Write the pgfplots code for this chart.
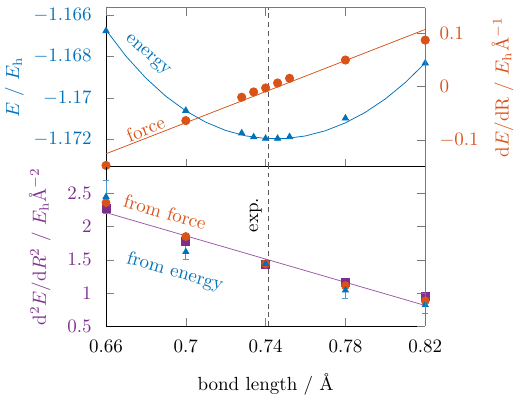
\documentclass[border=0pt]{standalone}
\usepackage{pgfplots}
\pgfplotsset{compat=1.18}
\definecolor{eblue}{RGB}{0,114,189}
\definecolor{forange}{RGB}{217,83,25}
\definecolor{hpurple}{RGB}{126,47,142}
\definecolor{spine}{RGB}{120,120,120}
\begin{document}
\begin{tikzpicture}
\pgfplotsset{
  panel/.style={
    width=168pt, height=83.8pt, scale only axis,
    xmin=0.66, xmax=0.82,
    xtick={0.66,0.7,0.74,0.78,0.82},
    clip=false,
    tick align=inside,
    axis line style={-},
    scaled ticks=false,
    xticklabel shift=4pt, yticklabel shift=4pt,
  },
}
% overall frame of the figure
\useasboundingbox (-55.8pt,-38.4pt) rectangle (224.2pt,171.6pt);

% ---------- upper panel: energy (left axis) ----------
\begin{axis}[panel, at={(0,83.8pt)}, anchor=south west,
  axis x line*=bottom, axis y line*=left,
  xtick pos=bottom, ytick pos=left, yticklabel pos=left,
  xticklabels={},
  ymin=-1.17334, ymax=-1.16564,
  ytick={-1.172,-1.17,-1.168,-1.166},
  yticklabel style={text=eblue, /pgf/number format/precision=3},
  ylabel={$E$ / $E_\mathrm{h}$}, ylabel style={text=eblue},
  ylabel shift=-1.7pt,
]
% fitted energy curve
\addplot[eblue, thin] coordinates {
  (0.66,-1.166724) (0.67,-1.167988) (0.68,-1.169051) (0.69,-1.169928)
  (0.70,-1.170634) (0.71,-1.171182) (0.72,-1.171582) (0.73,-1.171843)
  (0.74,-1.171971) (0.75,-1.171971) (0.76,-1.171845) (0.77,-1.171593)
  (0.78,-1.171213) (0.79,-1.170703) (0.80,-1.170056) (0.81,-1.169264)
  (0.82,-1.168317)};
% computed energies
\addplot[only marks, mark=triangle*, mark size=1.9pt, eblue] coordinates {
  (0.66,-1.16677) (0.70,-1.17062) (0.728,-1.17171) (0.734,-1.17190)
  (0.740,-1.17197) (0.746,-1.17197) (0.752,-1.17189) (0.78,-1.17099)
  (0.82,-1.16833)};
% experimental bond length
\addplot[black!65, dash pattern=on 2.6pt off 2pt] coordinates {(0.7414,-1.17334) (0.7414,-1.16564)};
\node[text=eblue, rotate=-41] at (axis cs:0.6806,-1.16796) {energy};
\node[text=forange, rotate=22] at (axis cs:0.6798,-1.17150) {force};
\end{axis}

% ---------- upper panel: force (right axis) ----------
\begin{axis}[panel, at={(0,83.8pt)}, anchor=south west,
  axis x line*=top, axis y line*=right,
  xtick pos=top, ytick pos=right, yticklabel pos=right,
  axis line style={spine}, tick style={spine},
  xticklabels={},
  ymin=-0.1505, ymax=0.1483,
  ytick={-0.1,0,0.1},
  yticklabel style={text=forange},
  ylabel={$\mathrm{d}E/\mathrm{dR}$ / $E_\mathrm{h}$\AA$^{-1}$},
  ylabel near ticks, ylabel style={text=forange}, ylabel shift=0pt,
]
\addplot[forange, thin] coordinates {(0.66,-0.1260) (0.82,0.1073)};
\addplot[only marks, mark=*, mark size=2.2pt, forange] coordinates {
  (0.66,-0.1479) (0.70,-0.0637) (0.728,-0.0199) (0.734,-0.0100)
  (0.740,-0.0025) (0.746,0.0068) (0.752,0.0156) (0.78,0.0499)
  (0.82,0.0873)};
\end{axis}

% ---------- lower panel: second derivative ----------
\begin{axis}[panel, at={(0,0)}, anchor=south west,
  axis x line*=bottom, axis y line*=left,
  xtick pos=bottom, ytick pos=left, yticklabel pos=left,
  ymin=0.5, ymax=2.9,
  ytick={0.5,1,1.5,2,2.5},
  yticklabel style={text=hpurple},
  xlabel={bond length / \AA}, xlabel shift=4pt,
  ylabel={$\mathrm{d}^2E/\mathrm{d}R^2$ / $E_\mathrm{h}$\AA$^{-2}$},
  ylabel style={text=hpurple}, ylabel shift=2pt,
]
\addplot[black!65, dash pattern=on 2.6pt off 2pt] coordinates {(0.7414,0.5) (0.7414,2.9)};
\node[rotate=90, anchor=south] at (axis cs:0.7414,2.17) {exp.};
\addplot[hpurple!80, thin] coordinates {(0.66,2.21) (0.82,0.81)};
\addplot[only marks, mark=square*, mark size=2.1pt, hpurple] coordinates {
  (0.66,2.27) (0.70,1.78) (0.74,1.43) (0.78,1.16) (0.82,0.95)};
\addplot[only marks, mark=*, mark size=2.1pt, forange] coordinates {
  (0.66,2.36) (0.70,1.85) (0.74,1.44) (0.78,1.11) (0.82,0.88)};
\addplot[only marks, mark=triangle*, mark size=1.8pt, eblue,
  error bars/.cd, y dir=both, y explicit,
  error bar style={eblue!70, thin},
  error mark options={rotate=90, eblue!70, mark size=1.6pt}]
  coordinates {
  (0.66,2.45) +- (0,0.25)
  (0.70,1.62) +- (0,0.11)
  (0.74,1.44) +- (0,0.03)
  (0.78,1.04) +- (0,0.13)
  (0.82,0.82) +- (0,0.13)};
\node[text=forange, rotate=-16] at (axis cs:0.6896,2.218) {from force};
\node[text=eblue, rotate=-16] at (axis cs:0.6946,1.311) {from energy};
\end{axis}

% lower panel: right spine
\begin{axis}[panel, at={(0,0)}, anchor=south west,
  axis x line=none, axis y line*=right,
  ytick pos=right, yticklabels={},
  axis line style={spine}, tick style={spine},
  ymin=0.5, ymax=2.9,
  ytick={0.5,1,1.5,2,2.5},
]
\addplot[draw=none] coordinates {(0.7,1)};
\end{axis}
\end{tikzpicture}
\end{document}
